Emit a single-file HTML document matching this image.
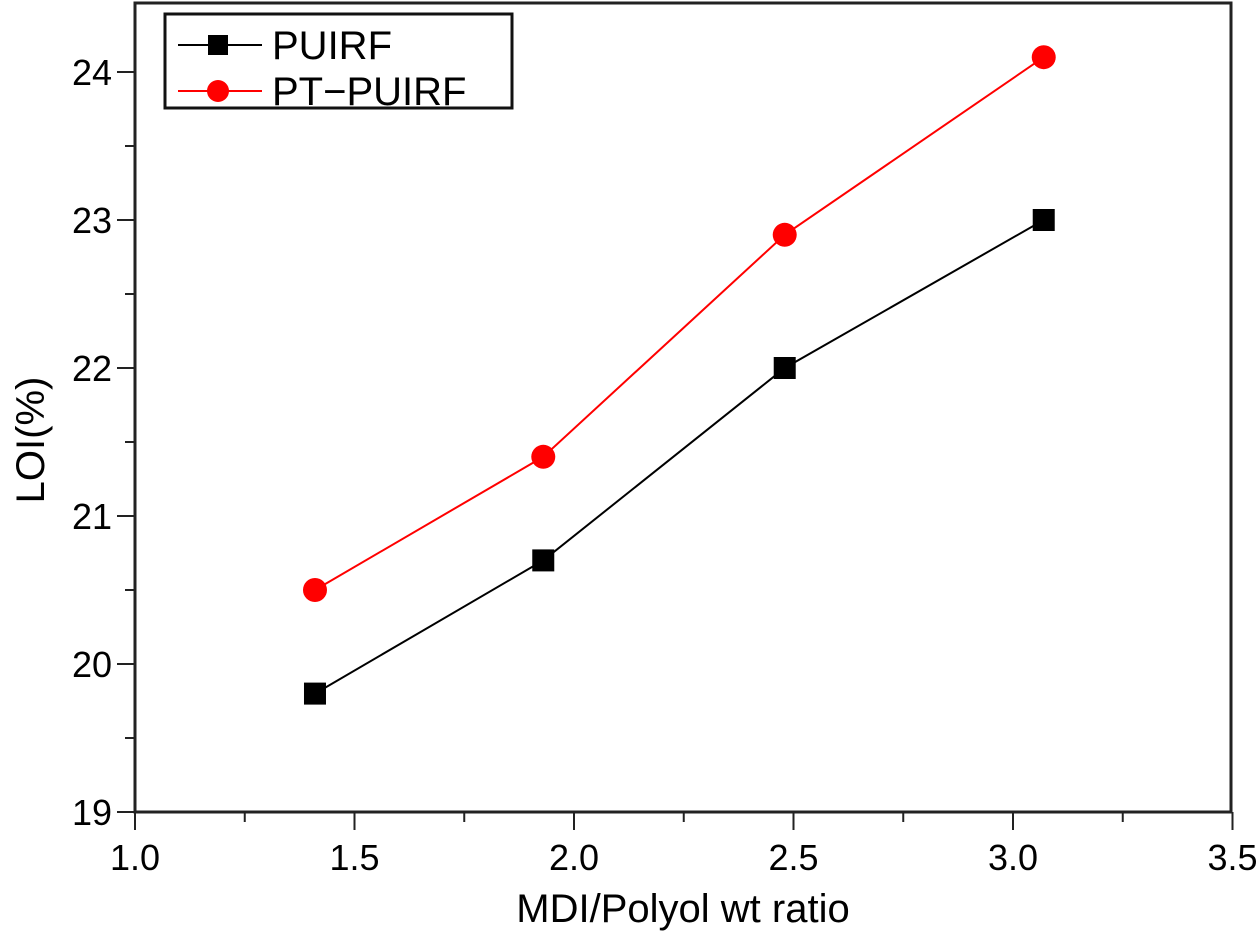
<!DOCTYPE html>
<html><head><meta charset="utf-8"><style>
body{margin:0;background:#fff}
svg{display:block;font-family:"Liberation Sans",Arial,sans-serif}
</style></head><body>
<svg id="chart" width="1260" height="939">
<g id="axes"></g><g id="series"></g>
<g>
<rect x="165" y="14" width="347" height="94" fill="#fff" stroke="#111" stroke-width="3"/>
<line x1="178" y1="45" x2="262" y2="45" stroke="#000" stroke-width="2"/>
<rect x="208" y="35" width="20" height="20" fill="#000"/>
<text x="272" y="59" font-size="40">PUIRF</text>
<line x1="178" y1="91" x2="262" y2="91" stroke="#f00" stroke-width="2"/>
<circle cx="218" cy="91" r="11" fill="#f00"/>
<text x="272" y="105" font-size="40">PT−PUIRF</text>
</g>
<text x="683" y="922" font-size="40" text-anchor="middle">MDI/Polyol wt ratio</text>
<text transform="translate(44,440) rotate(-90)" font-size="40" text-anchor="middle">LOI(%)</text>
</svg>
<script>
const xValues=[1.41,1.93,2.48,3.07];
const puirf=[19.8,20.7,22.0,23.0];
const ptPuirf=[20.5,21.4,22.9,24.1];
const xTicks=[1.0,1.5,2.0,2.5,3.0,3.5];
const yTicks=[19,20,21,22,23,24];
const NS="http://www.w3.org/2000/svg";
const X=v=>135+(v-1)*439;
const Y=v=>812-(v-19)*148;
const ax=document.getElementById('axes'),se=document.getElementById('series');
function mk(p,t,a){const e=document.createElementNS(NS,t);for(const k in a)e.setAttribute(k,a[k]);p.appendChild(e);return e;}
const fr=mk(ax,'rect',{x:135,y:3,width:1096,height:809,fill:'none',stroke:'#222','stroke-width':3});


xTicks.forEach((t,i)=>{
 mk(ax,'line',{x1:X(t),y1:812,x2:X(t),y2:830,stroke:'#222','stroke-width':2});
 if(i<xTicks.length-1){const m=X(t+0.25);mk(ax,'line',{x1:m,y1:812,x2:m,y2:822,stroke:'#222','stroke-width':2});}
 const tx=mk(ax,'text',{x:X(t),y:870,'font-size':36,'text-anchor':'middle'});tx.textContent=t.toFixed(1);
 
 
});
yTicks.forEach((t,i)=>{
 mk(ax,'line',{x1:117,y1:Y(t),x2:135,y2:Y(t),stroke:'#222','stroke-width':2});
 const m=Y(t+0.5);mk(ax,'line',{x1:125,y1:m,x2:135,y2:m,stroke:'#222','stroke-width':2});
 const tx=mk(ax,'text',{x:112,y:Y(t)+13,'font-size':36,'text-anchor':'end'});tx.textContent=t;
 
 
});
function series(vals,color,sq,name){
 const pl=mk(se,'polyline',{points:vals.map((v,i)=>X(xValues[i])+','+Y(v)).join(' '),fill:'none',stroke:color,'stroke-width':2});
 
 
 vals.forEach((v,i)=>{
  const e=sq?mk(se,'rect',{x:X(xValues[i])-11,y:Y(v)-11,width:22,height:22,fill:color}):mk(se,'circle',{cx:X(xValues[i]),cy:Y(v),r:12,fill:color});
  
  
 });
}
series(puirf,'#000',true,'puirf');
series(ptPuirf,'#f00',false,'pt-puirf');
</script>
</body></html>
